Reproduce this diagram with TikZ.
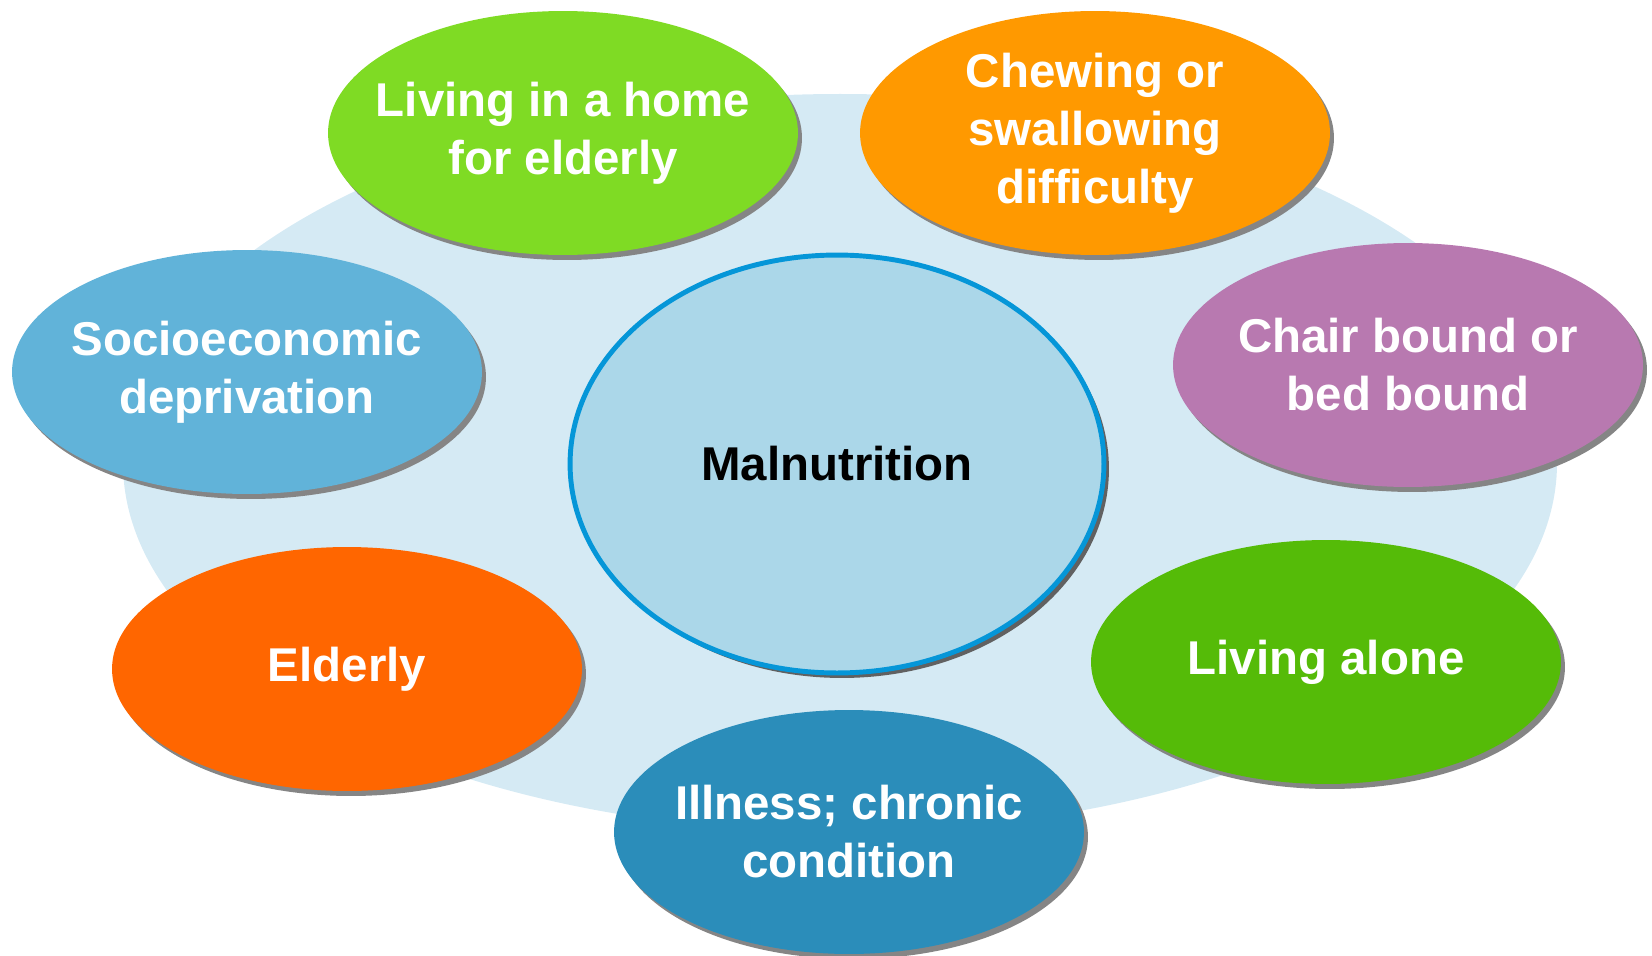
\documentclass[tikz,border=0pt]{standalone}
\usepackage{fontspec}
\setmainfont{Liberation Sans}
\usetikzlibrary{shapes, shadows, positioning}

\definecolor{bgblue}{HTML}{D5EAF4}
\definecolor{midblue}{HTML}{ABD7E9}
\definecolor{rimblue}{HTML}{0596D8}
\definecolor{limegreen}{HTML}{7FDB24}
\definecolor{deepgreen}{HTML}{55BB08}
\definecolor{amber}{HTML}{FF9900}
\definecolor{tangerine}{HTML}{FF6600}
\definecolor{skyblue}{HTML}{61B3D9}
\definecolor{steelblue}{HTML}{2B8DBA}
\definecolor{mauve}{HTML}{B879B0}

\begin{document}
\begin{tikzpicture}[x=0.02cm,y=-0.02cm,
  every node/.style={ellipse,align=center,text=white,
    inner xsep=-1cm,inner ysep=-0.6cm,
    font=\bfseries\fontsize{27}{33}\selectfont},
  factor/.style={fill=#1,minimum width=9.4cm,minimum height=4.88cm,
    drop shadow={shadow xshift=0.08cm,shadow yshift=-0.1cm,fill=black!48,opacity=1}},
]
\useasboundingbox (0,0) rectangle (1652,956);

% pale disc behind everything
\fill[bgblue] (840,463) ellipse [x radius=717, y radius=369];

\node[fill=midblue,draw=rimblue,line width=2.8pt,text=black,
      minimum width=10.68cm,minimum height=8.36cm,
      drop shadow={shadow xshift=0.1cm,shadow yshift=-0.1cm,fill=black!62,opacity=1}]
      (nMal) at (837,464) {Malnutrition};

\node[factor=limegreen] (nHome)  at (563,133)  {Living in a home\\for elderly};
\node[factor=amber]     (nChew)  at (1095,133) {Chewing or\\swallowing\\difficulty};
\node[factor=skyblue]   (nSocio) at (247,372)  {Socioeconomic\\deprivation};
\node[factor=mauve]     (nChair) at (1408,365) {Chair bound or\\bed bound};
\node[factor=tangerine] (nOld)   at (347,669)  {Elderly};
\node[factor=deepgreen] (nAlone) at (1326,662) {Living alone};
\node[factor=steelblue] (nIll)   at (849,832)  {Illness; chronic\\condition};
\end{tikzpicture}
\end{document}
